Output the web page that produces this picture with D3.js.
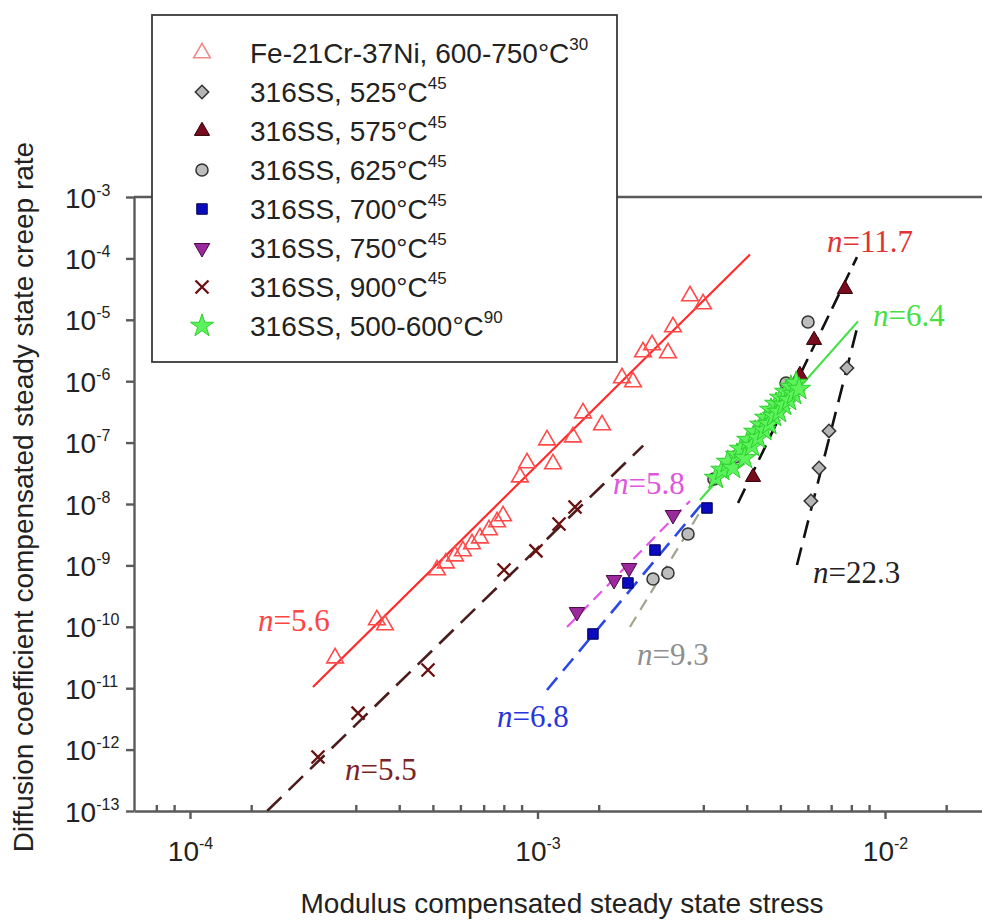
<!DOCTYPE html>
<html>
<head>
<meta charset="utf-8">
<script src="https://cdn.jsdelivr.net/npm/d3@7"></script>
<style>
  html, body { margin: 0; padding: 0; background: #fff; }
  svg { display: block; }
</style>
</head>
<body>
<svg id="chart" width="982" height="920"></svg>
<script>
// ---------------- data ----------------
// axis ticks
const xTicksMajor = [1e-4, 1e-3, 1e-2];
const xTickExponents = ["-4", "-3", "-2"];
const xTicksMinor = [8e-5, 9e-5, 1.5e-4, 3e-4, 4e-4, 5e-4, 6e-4, 7e-4, 8e-4, 9e-4,
                     1.5e-3, 3e-3, 4e-3, 5e-3, 6e-3, 7e-3, 8e-3, 9e-3, 1.5e-2];
const yTicks = [1e-3, 1e-4, 1e-5, 1e-6, 1e-7, 1e-8, 1e-9, 1e-10, 1e-11, 1e-12, 1e-13];
const yTickExponents = ["-3", "-4", "-5", "-6", "-7", "-8", "-9", "-10", "-11", "-12", "-13"];

// [modulus compensated stress, diffusion compensated creep rate]
const feCrNi = [
  [2.615e-4, 3.10e-11], [3.45e-4, 1.29e-10], [3.64e-4, 1.07e-10],
  [5.14e-4, 8.41e-10], [5.45e-4, 1.09e-9], [5.79e-4, 1.42e-9], [6.10e-4, 1.72e-9],
  [6.48e-4, 2.23e-9], [6.83e-4, 2.79e-9], [7.25e-4, 3.77e-9], [7.65e-4, 5.09e-9],
  [7.96e-4, 6.38e-9], [8.90e-4, 2.75e-8], [9.33e-4, 4.65e-8], [1.065e-3, 1.10e-7],
  [1.108e-3, 4.48e-8], [1.265e-3, 1.23e-7], [1.352e-3, 3.03e-7], [1.533e-3, 1.94e-7],
  [1.750e-3, 1.13e-6], [1.883e-3, 9.7e-7], [2.012e-3, 2.99e-6], [2.136e-3, 3.89e-6],
  [2.374e-3, 2.88e-6], [2.454e-3, 7.63e-6], [2.747e-3, 2.44e-5], [2.995e-3, 1.81e-5]
];
const ss525 = [[6.12e-3, 1.12e-8], [6.46e-3, 3.86e-8], [6.90e-3, 1.55e-7], [7.77e-3, 1.64e-6]];
const ss575 = [[4.17e-3, 2.75e-8], [5.69e-3, 1.26e-6], [6.25e-3, 4.69e-6], [7.67e-3, 3.17e-5]];
const ss625 = [[2.150e-3, 6.01e-10], [2.374e-3, 7.52e-10], [2.711e-3, 3.24e-9], [3.220e-3, 2.55e-8],
               [3.701e-3, 5.82e-8], [5.19e-3, 9.35e-7], [6.004e-3, 9.21e-6]];
const ss700 = [[1.444e-3, 7.64e-11], [1.821e-3, 5.17e-10], [2.178e-3, 1.78e-9], [3.074e-3, 8.61e-9]];
const ss750 = [[1.299e-3, 1.74e-10], [1.660e-3, 5.78e-10], [1.834e-3, 9.08e-10], [2.454e-3, 6.62e-9]];
const ss900 = [[2.335e-4, 7.57e-13], [3.045e-4, 3.94e-12], [4.84e-4, 1.98e-11], [8.01e-4, 8.41e-10],
               [9.90e-4, 1.72e-9], [1.153e-3, 4.72e-9], [1.282e-3, 8.93e-9]];
const ss500 = [
  [3.26e-3, 2.65e-8], [3.40e-3, 3.58e-8], [3.53e-3, 4.83e-8], [3.65e-3, 3.86e-8],
  [3.75e-3, 6.28e-8], [3.85e-3, 7.87e-8], [3.95e-3, 5.61e-8], [4.04e-3, 1.10e-7],
  [4.14e-3, 8.80e-8], [4.23e-3, 1.49e-7], [4.31e-3, 1.19e-7], [4.40e-3, 1.94e-7],
  [4.49e-3, 1.60e-7], [4.55e-3, 2.52e-7], [4.64e-3, 2.01e-7], [4.70e-3, 3.40e-7],
  [4.79e-3, 2.71e-7], [4.86e-3, 4.25e-7], [4.95e-3, 3.15e-7], [5.02e-3, 5.33e-7],
  [5.12e-3, 4.10e-7], [5.19e-3, 6.67e-7], [5.29e-3, 4.94e-7], [5.36e-3, 8.05e-7],
  [5.47e-3, 6.19e-7], [5.55e-3, 9.35e-7], [5.66e-3, 7.46e-7]
];

// legend entries
const legendNames = ["Fe-21Cr-37Ni, 600-750°C", "316SS, 525°C", "316SS, 575°C", "316SS, 625°C",
                     "316SS, 700°C", "316SS, 750°C", "316SS, 900°C", "316SS, 500-600°C"];
const legendRefs = ["30", "45", "45", "45", "45", "45", "45", "90"];

// power-law fits: stress exponent n, start point, end stress
const fitN = [5.6, 5.5, 6.8, 5.8, 9.3, 11.7, 22.3, 6.4];
const fitStart = [[2.259e-4, 1.047e-11], [1.667e-4, 1e-13], [1.065e-3, 9.35e-12], [1.216e-3, 9.93e-11],
                  [1.845e-3, 9.93e-11], [3.776e-3, 1.038e-8], [5.581e-3, 1.016e-9], [2.935e-3, 1.161e-8]];
const fitEndX = [4.088e-3, 2.014e-3, 2.995e-3, 2.747e-3, 2.935e-3, 8.305e-3, 8.305e-3, 8.36e-3];
// where each "n=" annotation starts (stress, rate)
const fitLabelAt = [[1.569e-4, 8.55e-11], [2.792e-4, 3.2e-13], [7.645e-4, 2.33e-12], [1.649e-3, 1.456e-8],
                    [1.933e-3, 2.39e-11], [6.81e-3, 1.27e-4], [6.21e-3, 5.16e-10], [9.24e-3, 7.92e-6]];

// ---------------- layout & styles ----------------
const axisLeft = 134, axisTop = 197, axisBottom = 811, axisRight = 982;

const x = d3.scaleLog().domain([1e-4, 1e-2]).range([190, 885]);
const xAxisScale = x.copy().domain([x.invert(axisLeft), x.invert(axisRight)]).range([axisLeft, axisRight]);
const y = d3.scaleLog().domain([1e-13, 1e-3]).range([axisBottom, axisTop]);

const sans = "'Liberation Sans', Arial, sans-serif";
const serif = "'Liberation Serif', 'Times New Roman', serif";

const svg = d3.select("#chart");

// symbol painters
const sym = {
  triangle: d3.symbol().type(d3.symbolTriangle),
  circle: d3.symbol().type(d3.symbolCircle),
  square: d3.symbol().type(d3.symbolSquare),
  star: d3.symbol().type(d3.symbolStar),
};
function crossPath(r) {
  return `M${-r},${-r}L${r},${r}M${-r},${r}L${r},${-r}`;
}

const seriesStyle = [
  { data: feCrNi, draw: g => g.append("path").attr("d", sym.triangle.size(120)()).attr("fill", "none").attr("stroke", "#ff4a4a").attr("stroke-width", 1.6), legendColor: "#f08a8a" },
  { data: ss525, draw: g => g.append("path").attr("d", sym.square.size(90)()).attr("transform", "rotate(45)").attr("fill", "#b5b5b5").attr("stroke", "#333").attr("stroke-width", 1.5) },
  { data: ss575, draw: g => g.append("path").attr("d", sym.triangle.size(100)()).attr("fill", "#7a0a1e").attr("stroke", "#2a0000").attr("stroke-width", 1) },
  { data: ss625, draw: g => g.append("path").attr("d", sym.circle.size(115)()).attr("fill", "#bdbdbd").attr("stroke", "#333").attr("stroke-width", 1.5) },
  { data: ss700, draw: g => g.append("path").attr("d", sym.square.size(110)()).attr("fill", "#0a0ac0").attr("stroke", "#000050").attr("stroke-width", 1) },
  { data: ss750, draw: g => g.append("path").attr("d", sym.triangle.size(105)()).attr("transform", "rotate(180)").attr("fill", "#9a2a9c").attr("stroke", "#4a0a4a").attr("stroke-width", 1) },
  { data: ss900, draw: g => g.append("path").attr("d", crossPath(6.5)).attr("fill", "none").attr("stroke", "#6a1212").attr("stroke-width", 2.4) },
  { data: ss500, draw: g => g.append("path").attr("d", sym.star.size(165)()).attr("fill", "#5cf25c").attr("stroke", "#2ad02a").attr("stroke-width", 1) },
];

const fitStyle = [
  { color: "#ff2a2a", dash: null, width: 2.2, label: "#ff4444" },
  { color: "#4a1c1c", dash: "20,10", width: 2.6, label: "#7a2424" },
  { color: "#2a48e8", dash: "16,9", width: 2.6, label: "#2a34dc" },
  { color: "#e455ea", dash: "12,7", width: 2.2, label: "#e055e0" },
  { color: "#9ea690", dash: "12,8", width: 2.2, label: "#8f8f8f" },
  { color: "#111", dash: "16,8", width: 2.6, label: "#e03434" },
  { color: "#111", dash: "18,10", width: 2.6, label: "#222" },
  { color: "#44e044", dash: null, width: 2.2, label: "#44e044" },
];

// ---------------- axes ----------------
const axisColor = "#5a5a5a";

const gx = svg.append("g").attr("transform", `translate(0,${axisBottom})`)
  .call(d3.axisBottom(xAxisScale).tickValues(xTicksMajor).tickSize(8).tickSizeOuter(0).tickFormat(""));
const gxMinor = svg.append("g").attr("transform", `translate(0,${axisBottom})`)
  .call(d3.axisBottom(xAxisScale).tickValues(xTicksMinor).tickSize(-6).tickSizeOuter(0).tickFormat(""));
gxMinor.select(".domain").remove();

const gy = svg.append("g").attr("transform", `translate(${axisLeft},0)`)
  .call(d3.axisLeft(y).tickValues(yTicks).tickSize(8).tickSizeOuter(0).tickFormat(""));

// top frame line
svg.append("line").attr("x1", axisLeft).attr("x2", axisRight).attr("y1", axisTop).attr("y2", axisTop);

svg.selectAll(".domain, .tick line, line").attr("stroke", axisColor).attr("stroke-width", 2.4);

// tick labels: powers of ten
gx.selectAll(".tick").each(function (d, i) {
  const t = d3.select(this).append("text")
    .attr("y", 50).attr("fill", "#222").attr("text-anchor", "middle")
    .style("font-family", sans).style("font-size", "28px");
  t.append("tspan").text("10");
  t.append("tspan").attr("dy", -12).style("font-size", "16px").text(xTickExponents[i]);
});
gy.selectAll(".tick").each(function (d, i) {
  const t = d3.select(this).append("text")
    .attr("x", -69).attr("y", 10).attr("fill", "#222").attr("text-anchor", "start")
    .style("font-family", sans).style("font-size", "28px");
  t.append("tspan").text("10");
  t.append("tspan").attr("dy", -12).style("font-size", "16px").text(yTickExponents[i]);
});

// axis titles
svg.append("text")
  .attr("x", 562).attr("y", 913).attr("text-anchor", "middle").attr("fill", "#222")
  .style("font-family", sans).style("font-size", "28px")
  .text("Modulus compensated steady state stress");
svg.append("text")
  .attr("transform", "translate(33,497) rotate(-90)").attr("text-anchor", "middle").attr("fill", "#222")
  .style("font-family", sans).style("font-size", "28px")
  .text("Diffusion coefficient compensated steady state creep rate");

// ---------------- plot ----------------
svg.append("clipPath").attr("id", "plotClip").append("rect")
  .attr("x", axisLeft).attr("y", axisTop).attr("width", axisRight - axisLeft).attr("height", axisBottom - axisTop);
const plot = svg.append("g").attr("clip-path", "url(#plotClip)");

// fit lines
const line = d3.line().x(d => x(d[0])).y(d => y(d[1]));
fitN.forEach((n, i) => {
  const [x0, y0] = fitStart[i];
  const x1 = fitEndX[i];
  const y1 = y0 * Math.pow(x1 / x0, n);
  const s = fitStyle[i];
  plot.append("path")
    .attr("d", line([[x0, y0], [x1, y1]]))
    .attr("fill", "none").attr("stroke", s.color).attr("stroke-width", s.width)
    .attr("stroke-dasharray", s.dash);
});

// data markers
seriesStyle.forEach(s => {
  s.data.forEach(d => {
    const g = plot.append("g").attr("transform", `translate(${x(d[0])},${y(d[1])})`);
    s.draw(g);
  });
});

// fit annotations
fitN.forEach((n, i) => {
  const t = svg.append("text")
    .attr("x", x(fitLabelAt[i][0])).attr("y", y(fitLabelAt[i][1]))
    .attr("fill", fitStyle[i].label)
    .style("font-family", serif).style("font-size", "31px");
  t.append("tspan").style("font-style", "italic").text("n");
  t.append("tspan").text("=" + n);
});

// ---------------- legend ----------------
const legend = svg.append("g");
legend.append("rect")
  .attr("x", 152).attr("y", 15).attr("width", 465).attr("height", 347)
  .attr("fill", "#fff").attr("stroke", "#3a3a3a").attr("stroke-width", 1.8);
legendNames.forEach((name, i) => {
  const cy = 53 + 39 * i;
  const mg = legend.append("g").attr("transform", `translate(202,${cy})`);
  seriesStyle[i].draw(mg);
  if (seriesStyle[i].legendColor) mg.select("path").attr("stroke", seriesStyle[i].legendColor);
  const t = legend.append("text")
    .attr("x", 250).attr("y", cy + 10).attr("fill", "#222")
    .style("font-family", sans).style("font-size", "28px");
  t.append("tspan").text(name);
  t.append("tspan").attr("dy", -13).style("font-size", "17px").text(legendRefs[i]);
});
</script>
</body>
</html>
